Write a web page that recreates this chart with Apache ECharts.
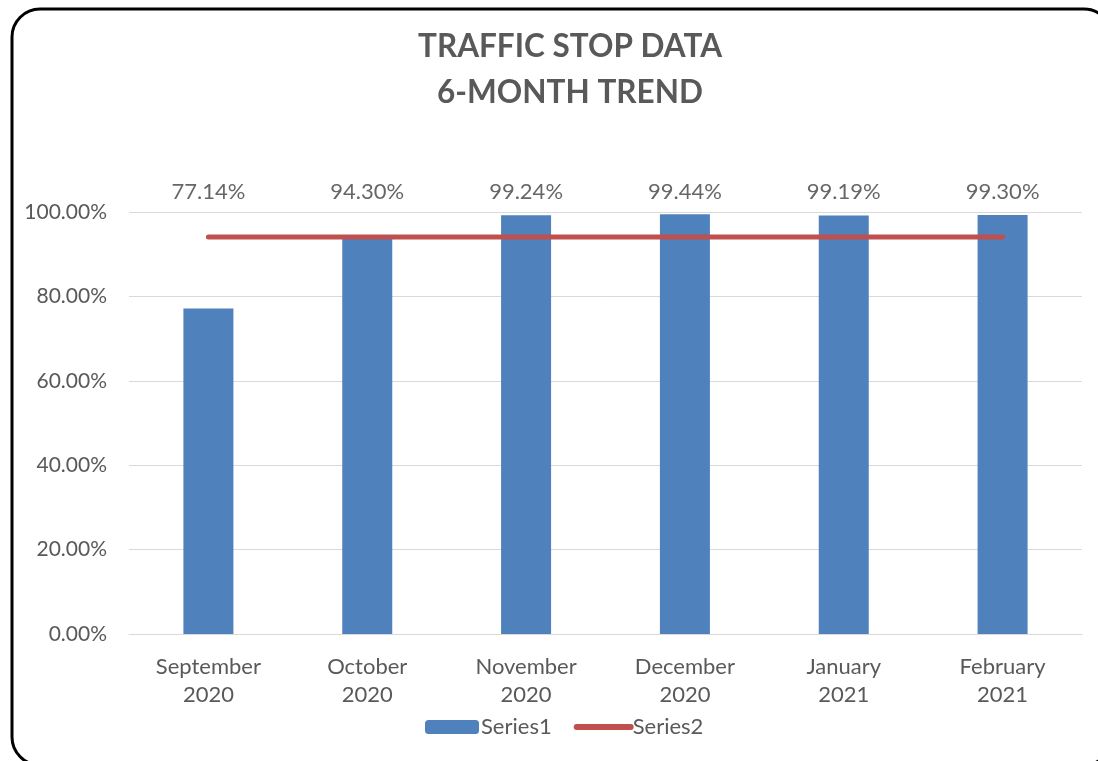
<!DOCTYPE html>
<html>
<head>
<meta charset="utf-8">
<script src="https://cdn.jsdelivr.net/npm/echarts@6/dist/echarts.min.js"></script>
<style>html,body{margin:0;padding:0;background:#fff;}#c{width:1098px;height:761px;}</style>
</head>
<body>
<div id="c"></div>
<script>
const categories = ['September\n2020', 'October\n2020', 'November\n2020', 'December\n2020', 'January\n2021', 'February\n2021'];
const series1 = [77.14, 94.30, 99.24, 99.44, 99.19, 99.30];
const series2 = [94.1, 94.1, 94.1, 94.1, 94.1, 94.1];
const yTicks = [0, 20, 40, 60, 80, 100];

const FONT = 'Lato';
const LABEL_ROW = 104.7; // vertical placement of the value-label row (axis units)

const chart = echarts.init(document.getElementById('c'));
chart.setOption({
  animation: false,
  backgroundColor: '#fff',
  title: {
    text: 'TRAFFIC STOP DATA\n6-MONTH TREND',
    left: 565,
    textAlign: 'center',
    top: 19,
    textStyle: { fontFamily: FONT, fontWeight: 'bold', fontSize: 31.5, color: '#595959', lineHeight: 46 }
  },
  legend: {
    bottom: 18,
    left: 420,
    itemWidth: 54,
    itemHeight: 14,
    itemGap: 22,
    data: [
      { name: 'Series1' },
      { name: 'Series2', itemStyle: { color: 'rgba(0,0,0,0)', borderWidth: 0, opacity: 0 }, lineStyle: { width: 6, cap: 'round', color: '#C0504D' } }
    ],
    textStyle: { fontFamily: FONT, fontSize: 22, color: '#595959', padding: [0, 0, 0, -3] }
  },
  grid: { left: 129, right: 16, top: 212, bottom: 127, containLabel: false },
  xAxis: {
    type: 'category',
    data: categories,
    axisTick: { show: false },
    axisLine: { lineStyle: { color: '#d9d9d9', width: 1 } },
    axisLabel: { fontFamily: FONT, fontSize: 22, color: '#595959', lineHeight: 28, margin: 19, interval: 0 }
  },
  yAxis: {
    type: 'value',
    min: yTicks[0],
    max: yTicks[yTicks.length - 1],
    interval: yTicks[1] - yTicks[0],
    axisLine: { show: false },
    axisTick: { show: false },
    splitLine: { lineStyle: { color: '#d9d9d9', width: 1 } },
    axisLabel: { fontFamily: FONT, fontSize: 21, color: '#595959', margin: 22, formatter: v => v.toFixed(2) + '%' }
  },
  series: [
    {
      name: 'Series1',
      type: 'bar',
      data: series1,
      barWidth: 50,
      itemStyle: { color: '#4F81BD' }
    },
    {
      name: 'Series2',
      type: 'line',
      data: series2,
      symbol: 'none',
      lineStyle: { color: '#C0504D', width: 5, cap: 'round' },
      itemStyle: { color: '#C0504D' }
    },
    {
      name: 'labels',
      type: 'scatter',
      data: series1.map((v, i) => [i, LABEL_ROW, v]),
      symbolSize: 0,
      clip: false,
      silent: true,
      label: {
        show: true,
        position: 'inside',
        fontFamily: FONT,
        fontSize: 22,
        color: '#404040',
        formatter: p => p.value[2].toFixed(2) + '%'
      }
    }
  ],
  graphic: [
    {
      type: 'rect',
      shape: { x: 12, y: 9, width: 1100, height: 756, r: 28 },
      style: { fill: 'none', stroke: '#000', lineWidth: 3 },
      z: 100
    }
  ]
});
</script>
</body>
</html>
